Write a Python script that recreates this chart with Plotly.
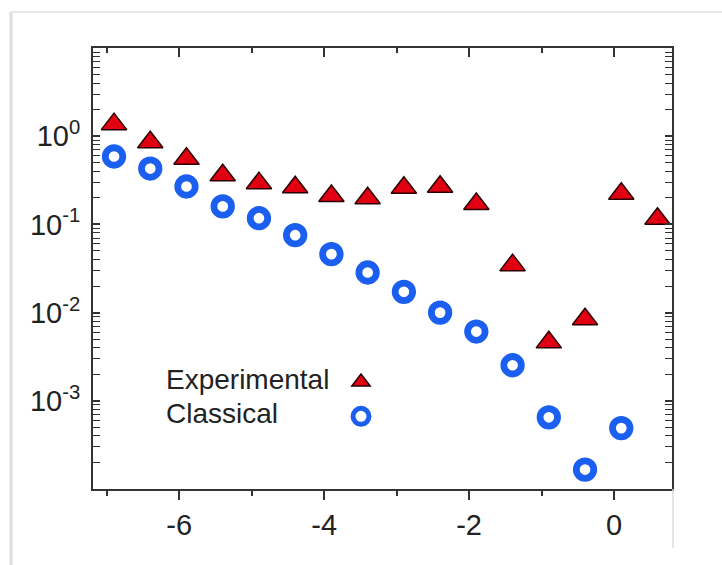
import numpy as np
import plotly.graph_objects as go

# ---- data ----
x_exp = [-6.9, -6.4, -5.9, -5.4, -4.9, -4.4, -3.9, -3.4, -2.9, -2.4, -1.9, -1.4, -0.9, -0.4, 0.1, 0.6]
y_exp = [1.37, 0.855, 0.556, 0.361, 0.293, 0.264, 0.21, 0.198, 0.26, 0.267, 0.17, 0.0345, 0.0046, 0.0084, 0.223, 0.116]
x_cls = [-6.9, -6.4, -5.9, -5.4, -4.9, -4.4, -3.9, -3.4, -2.9, -2.4, -1.9, -1.4, -0.9, -0.4, 0.1]
y_cls = [0.589, 0.43, 0.269, 0.16, 0.1175, 0.0755, 0.046, 0.0285, 0.0172, 0.01, 0.0061, 0.00253, 0.00065, 0.000166, 0.00049]
series_names = ["Experimental", "Classical"]
x_major = [-6, -4, -2, 0]
x_minor = [-7, -5, -3, -1]
y_major = [1e0, 1e-1, 1e-2, 1e-3]
y_major_text = ["10<sup>0</sup>", "10<sup>-1</sup>", "10<sup>-2</sup>", "10<sup>-3</sup>"]

FONT = "Liberation Sans, Arial, sans-serif"
RED = "#e00012"
BLUE = "#1a5ff0"
AX = "#333333"

W, H = 722, 565
L, R, T, B = 93, 50, 48, 76


def px_x(p):
    return (p - L) / (W - L - R)


def px_y(p):
    return (H - B - p) / (H - T - B)


fig = go.Figure()
fig.add_trace(go.Scatter(
    x=x_exp, y=y_exp, mode="markers", name="",
    marker=dict(symbol="triangle-up", size=22, color=RED,
                line=dict(color="#2a0000", width=1.5)),
))
fig.add_trace(go.Scatter(
    x=x_cls, y=y_cls, mode="markers", name="",
    marker=dict(symbol="circle-open", size=17.5, color=BLUE,
                line=dict(color=BLUE, width=6.8)),
))

y_minor = [m * 10.0 ** e for e in range(-4, 1) for m in range(2, 10)]

fig.update_layout(
    width=W, height=H,
    margin=dict(l=L, r=R, t=T, b=B, pad=0),
    paper_bgcolor="white", plot_bgcolor="white",
    font=dict(family=FONT, size=29, color="#222222"),
    showlegend=True,
    legend=dict(x=px_x(341), y=px_y(360), xanchor="left", yanchor="top",
                bgcolor="rgba(0,0,0,0)", font=dict(size=24),
                itemsizing="trace", tracegroupgap=0, itemwidth=30),
    xaxis=dict(range=[-7.19, 0.8], showgrid=False, zeroline=False,
               showline=True, linecolor=AX, linewidth=2, mirror=True,
               tickmode="array", tickvals=x_major, ticktext=[str(v) for v in x_major],
               ticks="outside", ticklen=9, tickwidth=1.5, tickcolor=AX,
               minor=dict(tickmode="array", tickvals=x_minor, ticks="outside",
                          ticklen=5, tickwidth=1.5, tickcolor=AX, showgrid=False),
               tickfont=dict(size=29)),
    xaxis2=dict(range=[-7.19, 0.8], overlaying="x", side="top", showgrid=False,
                zeroline=False, showline=False, showticklabels=False,
                tickmode="array", tickvals=x_major, ticks="inside", ticklen=9,
                tickwidth=1.5, tickcolor=AX,
                minor=dict(tickmode="array", tickvals=x_minor, ticks="inside",
                           ticklen=5, tickwidth=1.5, tickcolor=AX, showgrid=False)),
    yaxis=dict(type="log", range=[-4, 1], showgrid=False, zeroline=False,
               showline=True, linecolor=AX, linewidth=2, mirror="allticks",
               tickmode="array", tickvals=y_major, ticktext=y_major_text,
               ticks="inside", ticklen=7, tickwidth=1.5, tickcolor=AX,
               minor=dict(tickmode="array", tickvals=y_minor, ticks="inside",
                          ticklen=4, tickwidth=1.2, tickcolor=AX, showgrid=False),
               tickfont=dict(size=29), ticklabelstandoff=5),
)

# invisible trace to activate the top axis
fig.add_trace(go.Scatter(x=[x_major[0]], y=[y_major[0]], xaxis="x2", mode="markers",
                         marker=dict(opacity=0), showlegend=False, hoverinfo="skip"))

# legend labels (text left of the legend symbols, as in the reference)
for name, py in zip(series_names, [379, 413]):
    fig.add_annotation(xref="paper", yref="paper", x=px_x(164), y=px_y(py),
                       xanchor="left", yanchor="middle", text=name, showarrow=False,
                       font=dict(family=FONT, size=28, color="#222222"))

# screenshot frame lines
frame = "#dddddd"
fig.add_shape(type="line", xref="paper", yref="paper", x0=px_x(11), x1=px_x(11),
              y0=px_y(12), y1=px_y(565), line=dict(color=frame, width=3))
fig.add_shape(type="line", xref="paper", yref="paper", x0=px_x(11), x1=px_x(722),
              y0=px_y(12), y1=px_y(12), line=dict(color="#e8e8e8", width=2))
fig.add_shape(type="line", xref="paper", yref="paper", x0=px_x(673), x1=px_x(673),
              y0=px_y(489), y1=px_y(548), line=dict(color=frame, width=1.5))

fig.write_html("out.html")
